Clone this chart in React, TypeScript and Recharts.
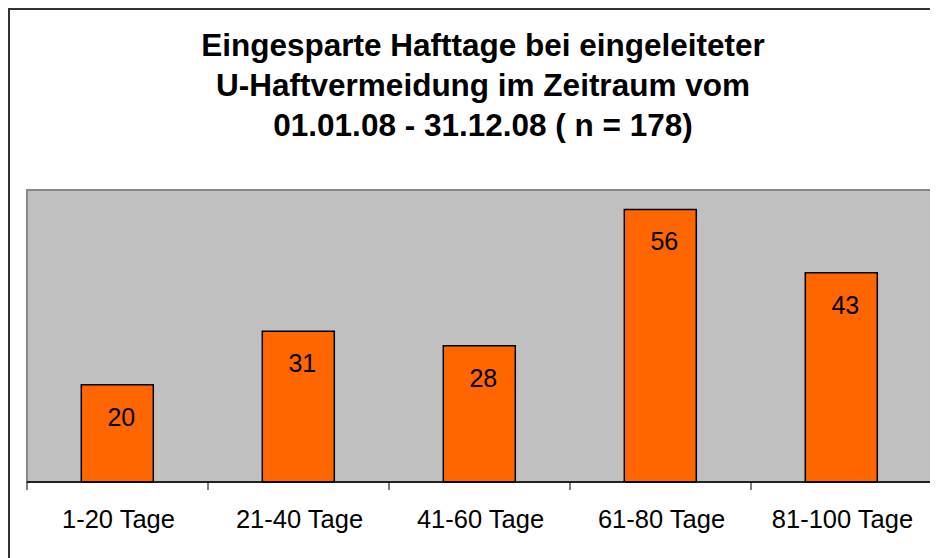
import { BarChart, Bar, XAxis, YAxis, CartesianGrid, LabelList, ReferenceArea } from 'recharts';

const CATEGORIES = ['1-20 Tage', '21-40 Tage', '41-60 Tage', '61-80 Tage', '81-100 Tage'];
const VALUES = [20, 31, 28, 56, 43];
const TITLE_LINES = [
  'Eingesparte Hafttage bei eingeleiteter',
  'U-Haftvermeidung im Zeitraum vom',
  '01.01.08 - 31.12.08 ( n = 178)',
];

const data = CATEGORIES.map((name, i) => ({ name, value: VALUES[i] }));

const FONT = '"Liberation Sans", Arial, Helvetica, sans-serif';
const CHART_W = 946;
const CHART_H = 556;
const MARGIN = { top: 180, right: 24, bottom: 34, left: 17 };

function CategoryTick(props: any) {
  const { x, y, payload, index } = props;
  const band = payload?.offset
    ? payload.offset * 2
    : (CHART_W - MARGIN.left - MARGIN.right) / CATEGORIES.length;
  const half = band / 2;
  const top = y - 8;
  return (
    <g>
      <line x1={x - half} y1={top} x2={x - half} y2={y} stroke="#000" strokeWidth={1} />
      {index === CATEGORIES.length - 1 && (
        <line x1={x + half} y1={top} x2={x + half} y2={y} stroke="#000" strokeWidth={1} />
      )}
      <text x={x + 1} y={y + 38} textAnchor="middle" fontSize={25.5} fill="#000" fontFamily={FONT}>
        {payload.value}
      </text>
    </g>
  );
}

function ValueLabel(props: any) {
  const { x, y, width, value } = props;
  return (
    <text
      x={x + width / 2 + 4}
      y={y + 41}
      textAnchor="middle"
      fontSize={25}
      fill="#000"
      fontFamily={FONT}
    >
      {value}
    </text>
  );
}

export default function App() {
  return (
    <div
      style={{
        position: 'relative',
        width: CHART_W,
        height: CHART_H,
        border: '2px solid #333',
        fontFamily: FONT,
        background: '#fff',
      }}
    >
      <div
        style={{
          position: 'absolute',
          top: 15,
          left: 0,
          width: CHART_W,
          textAlign: 'center',
          fontSize: 31.5,
          lineHeight: '40px',
          fontWeight: 'bold',
          color: '#000',
        }}
      >
        {TITLE_LINES.map((l) => (
          <div key={l}>{l}</div>
        ))}
      </div>
      <BarChart
        width={CHART_W}
        height={CHART_H}
        data={data}
        margin={MARGIN}
        barCategoryGap="30%"
      >
        <CartesianGrid fill="#c0c0c0" fillOpacity={1} horizontal={false} vertical={false} />
        <ReferenceArea
          y1={0}
          y2={60}
          fill="none"
          fillOpacity={0}
          stroke="#888"
          strokeWidth={2}
          ifOverflow="visible"
        />
        <XAxis
          dataKey="name"
          axisLine={{ stroke: '#000', strokeWidth: 1.5 }}
          tickLine={false}
          tickSize={8}
          tickMargin={0}
          height={50}
          interval={0}
          tick={<CategoryTick />}
        />
        <YAxis domain={[0, 60]} hide />
        <Bar dataKey="value" fill="#ff6600" stroke="#000" strokeWidth={1.5} isAnimationActive={false}>
          <LabelList dataKey="value" content={<ValueLabel />} />
        </Bar>
      </BarChart>
    </div>
  );
}
